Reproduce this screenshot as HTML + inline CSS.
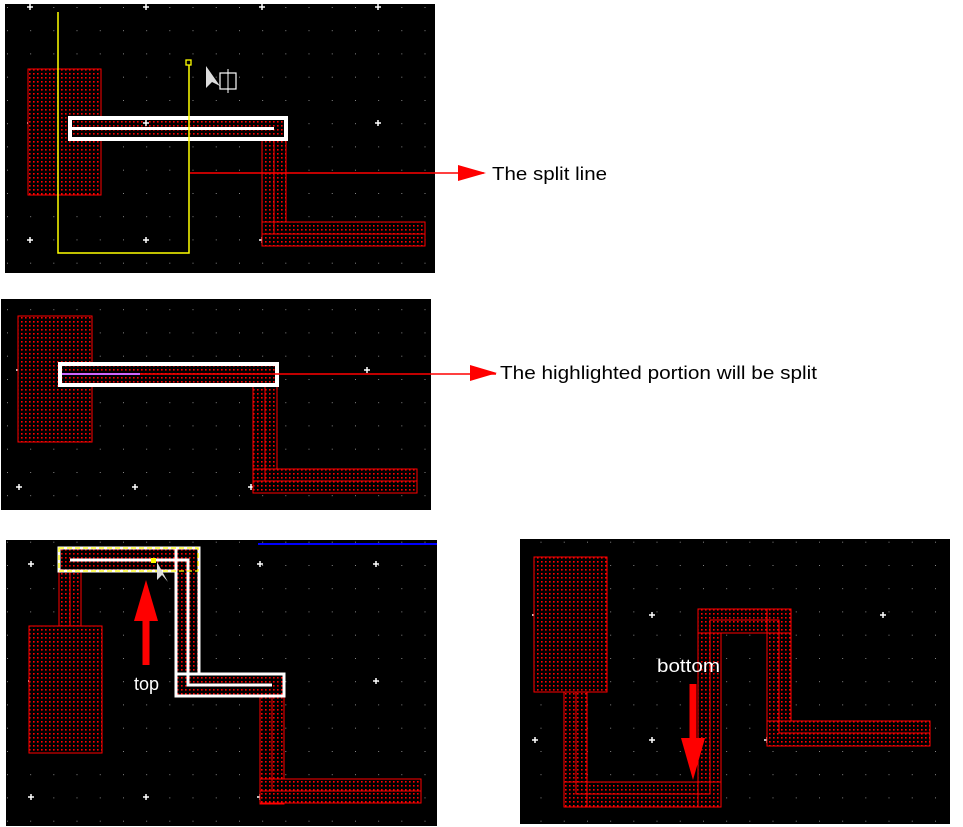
<!DOCTYPE html>
<html><head><meta charset="utf-8"><style>
html,body{margin:0;padding:0;background:#fff;width:963px;height:827px;overflow:hidden}
svg{display:block}
text{font-family:"Liberation Sans",sans-serif}
</style></head><body>
<svg width="963" height="827" viewBox="0 0 963 827" xmlns="http://www.w3.org/2000/svg">
<defs>
<pattern id="hatch" width="4" height="4" patternUnits="userSpaceOnUse">
<rect width="4" height="4" fill="#000"/><rect x="1" y="1" width="1.6" height="1.6" fill="#f00"/>
</pattern>
<pattern id="g1" x="7" y="7" width="23.2" height="23.25" patternUnits="userSpaceOnUse">
<rect x="-0.8" y="-0.8" width="1.6" height="1.6" fill="#ccc"/>
</pattern>
<g id="plus"><path d="M-3 0H3M0 -3V3" stroke="#fff" stroke-width="1.5"/></g>
</defs>

<!-- Panel 1 -->
<rect x="5" y="4" width="430" height="269" fill="#000"/>
<rect x="5" y="4" width="430" height="269" fill="url(#g1)"/>
<g>
<use href="#plus" x="30" y="7"/><use href="#plus" x="146" y="7"/><use href="#plus" x="262" y="7"/><use href="#plus" x="378" y="7"/>
<use href="#plus" x="30" y="123"/><use href="#plus" x="378" y="123"/>
<use href="#plus" x="30" y="240"/><use href="#plus" x="146" y="240"/><use href="#plus" x="262" y="240"/><use href="#plus" x="378" y="240"/>
</g>
<rect x="28" y="69" width="73" height="126" fill="url(#hatch)" stroke="#f00" stroke-width="1"/>
<rect x="262" y="138" width="24" height="108" fill="url(#hatch)" stroke="#f00"/>
<rect x="262" y="222" width="163" height="24" fill="url(#hatch)" stroke="#f00"/>
<path d="M274 128V234H425M262 234H425" stroke="#f00" fill="none"/>
<rect x="70" y="118" width="216" height="21" fill="url(#hatch)" stroke="#fff" stroke-width="4"/>
<path d="M72 128.5H274" stroke="#fff" stroke-width="3"/>
<use href="#plus" x="146" y="123"/>
<path d="M58 12V253H189V65" stroke="#ff0" stroke-width="1.5" fill="none"/>
<rect x="186" y="60" width="5" height="5" fill="none" stroke="#ff0" stroke-width="1.3"/>
<path d="M206 66L206 88L212 82L220 86Z" fill="#ddd"/>
<rect x="220" y="73" width="16" height="16" fill="none" stroke="#fff" stroke-width="1.2"/>
<path d="M228 69V93" stroke="#fff"/>
<path d="M190 173H484" stroke="#f00" stroke-width="1.5"/>
<path d="M458 165L486 173L458 181Z" fill="#f00"/>
<text x="492" y="180" font-size="18" fill="#000" textLength="115" lengthAdjust="spacingAndGlyphs">The split line</text>

<!-- Panel 2 -->
<rect x="1" y="299" width="430" height="211" fill="#000"/>
<rect x="1" y="299" width="430" height="211" fill="url(#g1)"/>
<use href="#plus" x="19" y="370"/><use href="#plus" x="135" y="370"/><use href="#plus" x="251" y="370"/><use href="#plus" x="367" y="370"/>
<use href="#plus" x="19" y="487"/><use href="#plus" x="135" y="487"/><use href="#plus" x="251" y="487"/><use href="#plus" x="367" y="487"/>
<rect x="18" y="316" width="74" height="126" fill="url(#hatch)" stroke="#f00"/>
<rect x="253" y="385" width="24" height="108" fill="url(#hatch)" stroke="#f00"/>
<rect x="253" y="469" width="164" height="24" fill="url(#hatch)" stroke="#f00"/>
<path d="M265 374V481H417M253 481H417" stroke="#f00" fill="none"/>
<rect x="60" y="364" width="217" height="21" fill="url(#hatch)" stroke="#fff" stroke-width="4"/>
<path d="M62 374H140" stroke="#c6f" stroke-width="2"/>
<path d="M140 374H496" stroke="#f00" stroke-width="1.5"/>
<path d="M470 365L497 373L470 381Z" fill="#f00"/>
<text x="500" y="379" font-size="18" fill="#000" textLength="317" lengthAdjust="spacingAndGlyphs">The highlighted portion will be split</text>

<!-- Panel 3 -->
<rect x="6" y="540" width="431" height="286" fill="#000"/>
<rect x="6" y="540" width="431" height="286" fill="url(#g1)"/>
<path d="M258 544H437" stroke="#00f" stroke-width="2"/>
<use href="#plus" x="31" y="564"/><use href="#plus" x="260" y="564"/><use href="#plus" x="376" y="564"/>
<use href="#plus" x="31" y="681"/><use href="#plus" x="376" y="681"/>
<use href="#plus" x="31" y="797"/><use href="#plus" x="146" y="797"/><use href="#plus" x="260" y="797"/><use href="#plus" x="376" y="797"/>
<rect x="59" y="565" width="22" height="62" fill="url(#hatch)" stroke="#f00"/>
<path d="M70 565V627" stroke="#f00"/>
<rect x="29" y="626" width="73" height="127" fill="url(#hatch)" stroke="#f00"/>
<rect x="260" y="696" width="24" height="108" fill="url(#hatch)" stroke="#f00"/>
<rect x="260" y="779" width="161" height="24" fill="url(#hatch)" stroke="#f00"/>
<path d="M272 685V791H421M260 791H421" stroke="#f00" fill="none"/>
<rect x="59" y="548" width="140" height="23" fill="url(#hatch)" stroke="#fff" stroke-width="3"/>
<rect x="176" y="548" width="23" height="148" fill="url(#hatch)" stroke="#fff" stroke-width="3"/>
<rect x="176" y="674" width="108" height="22" fill="url(#hatch)" stroke="#fff" stroke-width="3"/>
<path d="M70 560H188V685H272" stroke="#fff" stroke-width="3" fill="none"/>
<rect x="59" y="548" width="139" height="23" fill="none" stroke="#ff0" stroke-width="1.3" stroke-dasharray="5,3"/>
<path d="M157 562L157 580L162 575L168 582Z" fill="#ddd"/>
<rect x="151" y="558" width="5" height="5" fill="#ff0"/>
<path d="M146 620V665" stroke="#f00" stroke-width="7"/>
<path d="M134 621L146 580L158 621Z" fill="#f00"/>
<text x="134" y="690" font-size="18" fill="#fff">top</text>

<!-- Panel 4 -->
<rect x="520" y="539" width="430" height="285" fill="#000"/>
<rect x="520" y="539" width="430" height="285" fill="url(#g1)"/>
<use href="#plus" x="535" y="615"/><use href="#plus" x="652" y="615"/><use href="#plus" x="767" y="615"/><use href="#plus" x="883" y="615"/>
<use href="#plus" x="535" y="740"/><use href="#plus" x="652" y="740"/><use href="#plus" x="767" y="740"/><use href="#plus" x="883" y="740"/>
<rect x="534" y="557" width="73" height="135" fill="url(#hatch)" stroke="#f00"/>
<rect x="564" y="692" width="23" height="115" fill="url(#hatch)" stroke="#f00"/>
<rect x="564" y="782" width="157" height="25" fill="url(#hatch)" stroke="#f00"/>
<rect x="698" y="609" width="23" height="198" fill="url(#hatch)" stroke="#f00"/>
<rect x="698" y="609" width="93" height="24" fill="url(#hatch)" stroke="#f00"/>
<rect x="767" y="609" width="24" height="137" fill="url(#hatch)" stroke="#f00"/>
<rect x="767" y="721" width="163" height="25" fill="url(#hatch)" stroke="#f00"/>
<path d="M576 692V794H710V620H779V733H930" stroke="#f00" fill="none"/>
<path d="M564 782H721M698 633H791M767 721H930M587 782V807" stroke="#f00" fill="none"/>
<path d="M693 684V740" stroke="#f00" stroke-width="7"/>
<path d="M681 738L693 780L705 738Z" fill="#f00"/>
<text x="657" y="672" font-size="18" fill="#fff" textLength="63" lengthAdjust="spacingAndGlyphs">bottom</text>
</svg>
</body></html>
